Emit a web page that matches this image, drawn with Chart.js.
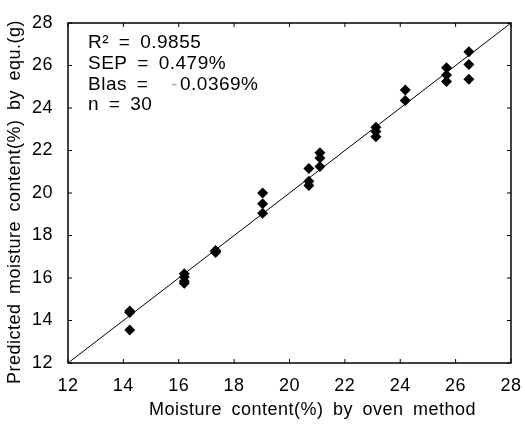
<!DOCTYPE html>
<html>
<head>
<meta charset="utf-8">
<script src="https://cdn.jsdelivr.net/npm/chart.js@4/dist/chart.umd.min.js"></script>
<style>
  html, body { margin: 0; padding: 0; background: #fff; }
  #wrap { width: 525px; height: 429px; }
</style>
</head>
<body>
<div id="wrap"><canvas id="moistureChart" width="525" height="429"></canvas></div>
<script>
// oven method vs predicted moisture
var ovenMoisture = [14.23, 14.23, 14.23, 16.2, 16.2, 16.2, 16.2, 17.33, 17.33, 17.33,
  19.03, 19.03, 19.03, 20.7, 20.7, 20.7, 21.1, 21.1, 21.1, 23.12, 23.12, 23.12,
  24.18, 24.18, 25.67, 25.67, 25.67, 26.48, 26.48, 26.48];
var predictedMoisture = [14.45, 14.38, 13.55, 16.2, 16.05, 15.85, 15.75, 17.3, 17.25, 17.2,
  20.0, 19.5, 19.05, 21.15, 20.55, 20.35, 21.9, 21.65, 21.25, 23.1, 22.9, 22.65,
  24.85, 24.35, 25.9, 25.55, 25.25, 26.65, 26.05, 25.35];
var axisTicks = [12, 14, 16, 18, 20, 22, 24, 26, 28];
var statLines = ["R\u00B2 = 0.9855", "SEP = 0.479%", "Blas =", "n = 30"];
var biasValue = "0.0369%";
var xTitle = "Moisture content(%) by oven method";
var yTitle = "Predicted moisture content(%) by equ.(g)";

var fontFamily = "'Liberation Sans', Arial, sans-serif";

var points = ovenMoisture.map(function (x, i) {
  return { x: x, y: predictedMoisture[i] };
});

// the scan has loose letter and word spacing
var spacingPlugin = {
  id: "spacing",
  beforeDraw: function (chart) {
    chart.ctx.letterSpacing = "0.5px";
    chart.ctx.wordSpacing = "4px";
  }
};

// frame, inward ticks, axis titles and the stats text
var framePlugin = {
  id: "frame",
  afterDraw: function (chart) {
    var ctx = chart.ctx;
    var a = chart.chartArea;
    var xs = chart.scales.x, ys = chart.scales.y;
    ctx.save();
    ctx.strokeStyle = "#000";
    ctx.lineWidth = 1.5;
    ctx.strokeRect(a.left, a.top, a.right - a.left, a.bottom - a.top);
    ctx.lineWidth = 1;
    ctx.beginPath();
    axisTicks.forEach(function (v) {
      var px = xs.getPixelForValue(v);
      ctx.moveTo(px, a.bottom); ctx.lineTo(px, a.bottom - 4);
      ctx.moveTo(px, a.top); ctx.lineTo(px, a.top + 4);
      var py = ys.getPixelForValue(v);
      ctx.moveTo(a.left, py); ctx.lineTo(a.left + 4, py);
      ctx.moveTo(a.right, py); ctx.lineTo(a.right - 4, py);
    });
    ctx.stroke();

    ctx.letterSpacing = "0.5px";
    ctx.wordSpacing = "4px";
    ctx.fillStyle = "#000";
    ctx.font = "18px " + fontFamily;
    ctx.textBaseline = "middle";
    ctx.textAlign = "center";
    // titles sit a little off-centre in the scan
    ctx.fillText(xTitle, (a.left + a.right) / 2 + 23, a.bottom + 47);
    ctx.save();
    ctx.translate(15, (a.top + a.bottom) / 2 + 9);
    ctx.rotate(-Math.PI / 2);
    ctx.fillText(yTitle, 0, 0);
    ctx.restore();

    ctx.font = "19px " + fontFamily;
    ctx.textAlign = "left";
    var tx = a.left + 20;
    statLines.forEach(function (s, i) {
      ctx.fillText(s, tx, a.top + 20 + i * 20.7);
    });
    var by = a.top + 20 + 2 * 20.7;
    ctx.fillText(biasValue, tx + 92, by);
    ctx.fillStyle = "#aaa";
    ctx.fillText("-", tx + 83, by);
    ctx.restore();
  }
};

new Chart(document.getElementById("moistureChart"), {
  type: "scatter",
  data: {
    datasets: [
      {
        label: "1:1",
        type: "line",
        data: [{ x: 12, y: 12 }, { x: 28, y: 28 }],
        borderColor: "#000",
        borderWidth: 1,
        pointRadius: 0,
        fill: false
      },
      {
        label: "samples",
        data: points,
        pointStyle: "rectRot",
        pointRadius: 5.5,
        backgroundColor: "#000",
        borderColor: "#000",
        borderWidth: 0
      }
    ]
  },
  options: {
    responsive: false,
    animation: false,
    layout: { padding: { top: 23, right: 12, left: 2, bottom: 0 } },
    plugins: { legend: { display: false }, tooltip: { enabled: false } },
    scales: {
      x: {
        type: "linear",
        min: 12, max: 28,
        afterBuildTicks: function (s) { s.ticks = axisTicks.map(function (v) { return { value: v }; }); },
        afterFit: function (s) { s.height = 66; },
        grid: { display: false },
        border: { display: false },
        ticks: { color: "#000", font: { family: fontFamily, size: 18 }, padding: 4, maxRotation: 0 },
        title: { display: false }
      },
      y: {
        type: "linear",
        min: 12, max: 28,
        afterBuildTicks: function (s) { s.ticks = axisTicks.map(function (v) { return { value: v }; }); },
        afterFit: function (s) { s.width = 66; },
        grid: { display: false },
        border: { display: false },
        ticks: { color: "#000", font: { family: fontFamily, size: 18 }, padding: 7 },
        title: { display: false }
      }
    }
  },
  plugins: [spacingPlugin, framePlugin]
});
</script>
</body>
</html>
